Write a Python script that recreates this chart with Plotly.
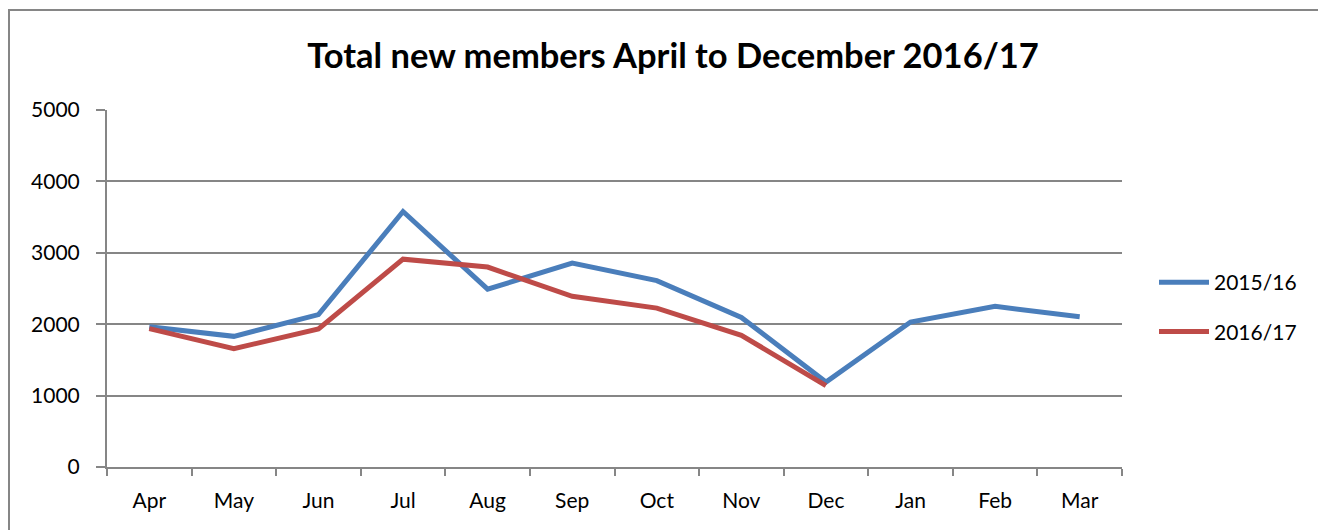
import plotly.graph_objects as go

months = ['Apr', 'May', 'Jun', 'Jul', 'Aug', 'Sep', 'Oct', 'Nov', 'Dec', 'Jan', 'Feb', 'Mar']
members_1516 = [1965, 1830, 2135, 3578, 2490, 2855, 2610, 2095, 1190, 2030, 2250, 2105]
members_1617 = [1938, 1658, 1933, 2911, 2800, 2390, 2225, 1845, 1140]

# the page body has an 8px margin, so the figure sits at (8, 8)
OFF = 8
W, H = 1326 - OFF, 530 - OFF
L, R, T, B = 107 - OFF, 1122 - OFF, 110 - OFF, 467 - OFF

BLUE = '#4A7EBB'
RED = '#BE4B48'
GREY = '#868686'
FONT = 'Lato, Open Sans, sans-serif'


def px_x(x):
    return (x - OFF - L) / (R - L)


def px_y(y):
    return (B - (y - OFF)) / (B - T)


fig = go.Figure()
fig.add_trace(go.Scatter(x=months, y=members_1516, mode='lines', name='2015/16',
                         legendgroup='a', line=dict(color=BLUE, width=5)))
fig.add_trace(go.Scatter(x=months[:len(members_1617)], y=members_1617, mode='lines',
                         name='2016/17', legendgroup='b', line=dict(color=RED, width=5)))

fig.update_layout(
    width=W, height=H,
    margin=dict(l=L, r=W - R, t=T, b=H - B),
    paper_bgcolor='white', plot_bgcolor='white',
    font=dict(family=FONT, size=21, color='black'),
    title=dict(text='<b>Total new members April to December 2016/17</b>',
               x=px_x(673), xanchor='center', xref='paper',
               y=1 - (56 - OFF) / H, yanchor='middle',
               font=dict(size=34.5, family=FONT)),
    legend=dict(x=px_x(1154), xanchor='left', y=px_y(307), yanchor='middle',
                font=dict(size=21), tracegroupgap=19, itemwidth=50),
    showlegend=True,
)

fig.update_xaxes(type='category', categoryorder='array', categoryarray=months,
                 range=[-0.5, 11.5], showgrid=False,
                 showline=True, linecolor=GREY, linewidth=2,
                 ticks='outside', tickson='boundaries', ticklen=7, tickcolor=GREY, tickwidth=2,
                 ticklabelstandoff=14, tickfont=dict(size=21), fixedrange=True)
fig.update_yaxes(range=[0, 5000], dtick=1000, showgrid=True, gridcolor=GREY, gridwidth=2,
                 showline=True, linecolor=GREY, linewidth=2, zeroline=False,
                 ticks='outside', ticklen=9, tickcolor=GREY, tickwidth=2,
                 ticklabelstandoff=12, tickfont=dict(size=21), fixedrange=True)

# outer chart border
fig.add_shape(type='rect', xref='paper', yref='paper',
              x0=px_x(9), x1=px_x(1319), y0=px_y(545), y1=px_y(10),
              line=dict(color=GREY, width=2), layer='below')

fig.write_html('out.html')
